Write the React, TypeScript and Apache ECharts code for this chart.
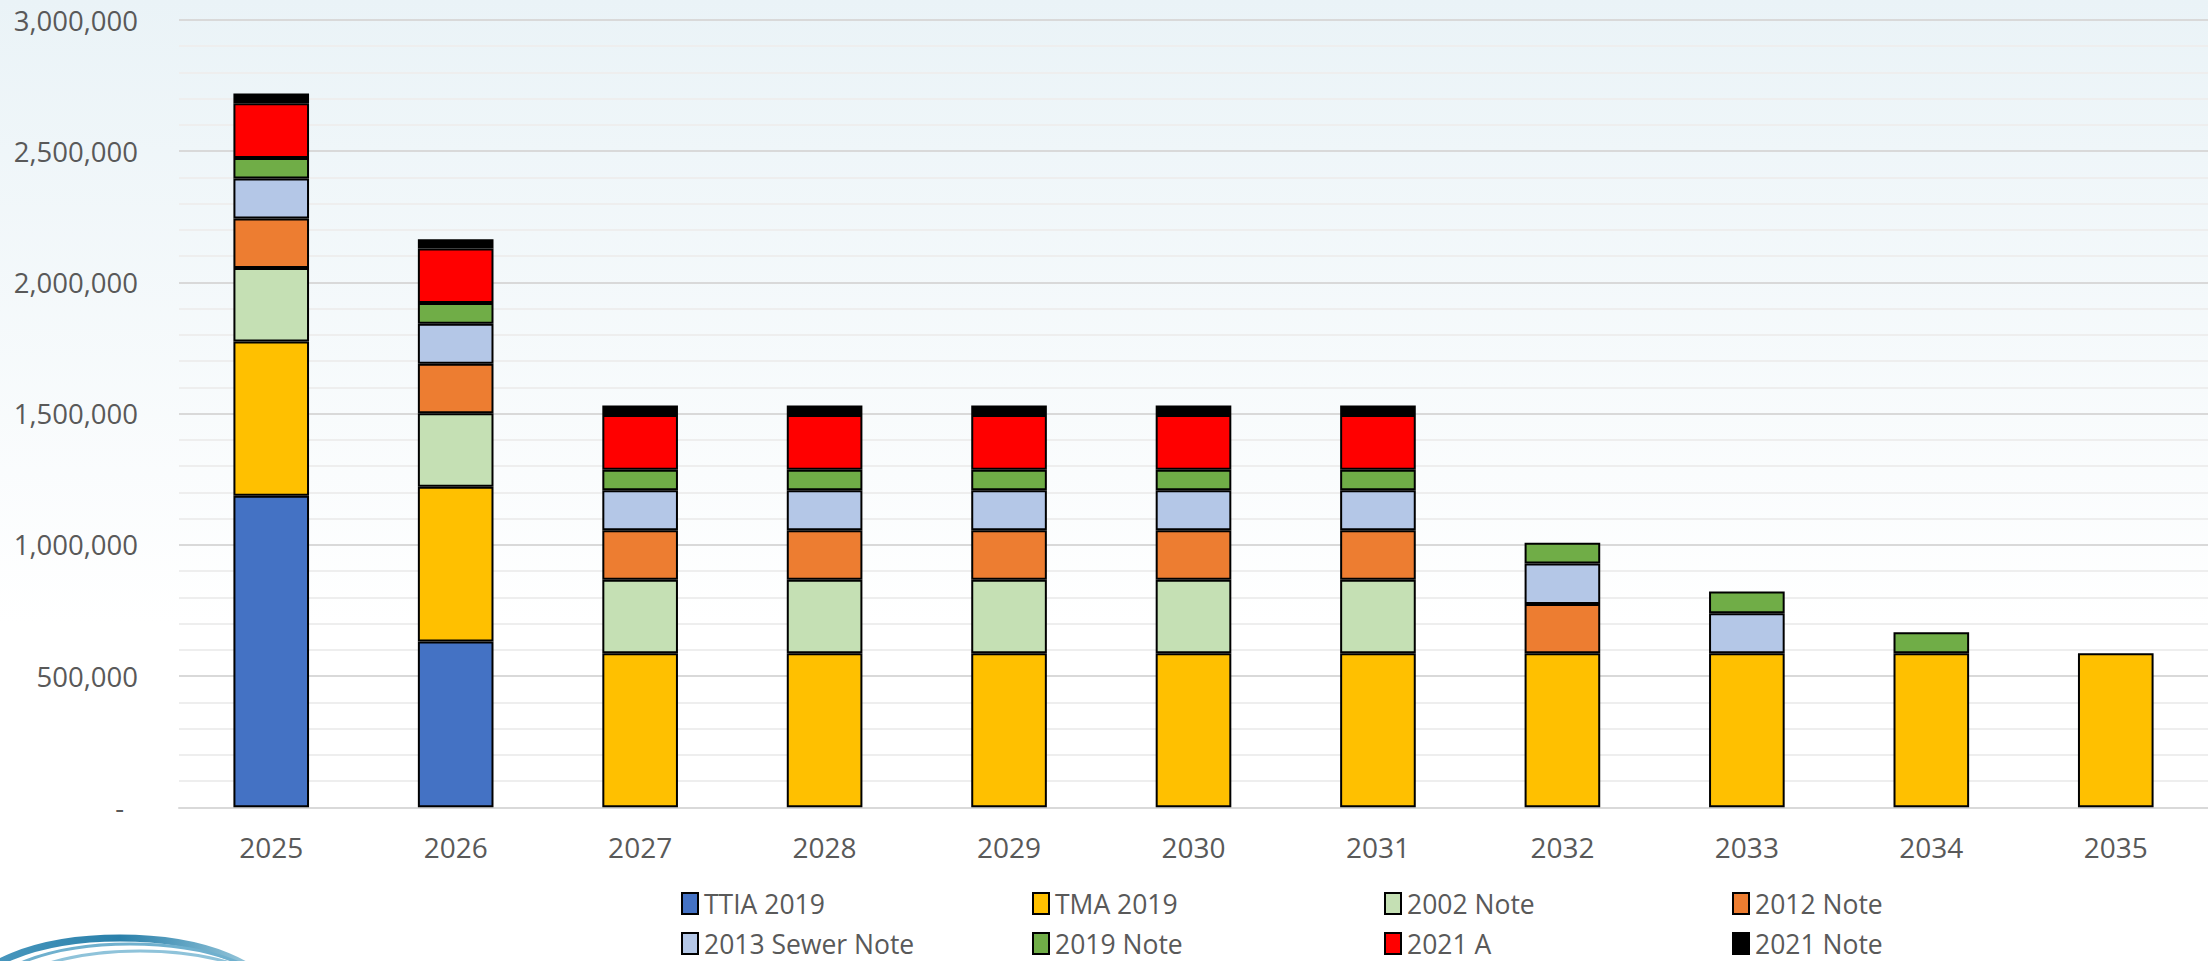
import React, { useEffect, useRef } from "react";
import * as echarts from "echarts";

const years = ["2025", "2026", "2027", "2028", "2029", "2030", "2031", "2032", "2033", "2034", "2035"];

const ttia2019 = [1187000, 632000, null, null, null, null, null, null, null, null, null];
const tma2019 = [588000, 589000, 587000, 587000, 587000, 587000, 587000, 587000, 587000, 587000, 587000];
const note2002 = [280000, 281000, 280000, 280000, 280000, 280000, 280000, null, null, null, null];
const note2012 = [189000, 188000, 189000, 189000, 189000, 189000, 189000, 188000, null, null, null];
const sewer2013 = [152000, 153000, 152000, 152000, 152000, 152000, 152000, 154000, 152000, null, null];
const note2019 = [78000, 79000, 78000, 78000, 78000, 78000, 78000, 79000, 83000, 80000, null];
const a2021 = [209000, 207000, 209000, 209000, 209000, 209000, 209000, null, null, null, null];
const note2021 = [37000, 36000, 36000, 36000, 36000, 36000, 36000, null, null, null, null];

const seriesNames = ["TTIA 2019", "TMA 2019", "2002 Note", "2012 Note", "2013 Sewer Note", "2019 Note", "2021 A", "2021 Note"];
const seriesColors = ["#4472C4", "#FFC000", "#C5E0B4", "#ED7D31", "#B4C7E7", "#70AD47", "#FF0000", "#000000"];
const seriesData = [ttia2019, tma2019, note2002, note2012, sewer2013, note2019, a2021, note2021];

const FONT = "'Open Sans', sans-serif";
const TEXT = "#595959";

export default function App() {
  const ref = useRef<HTMLDivElement>(null);
  useEffect(() => {
    if (!ref.current) return;
    const chart = echarts.init(ref.current, null, { renderer: "svg" });

    const legendCols = [681, 1032, 1384, 1732];
    const legendRows = [890, 930];
    const legends = seriesNames.map((name, i) => ({
      show: true,
      data: [{ name, icon: "rect" }],
      left: legendCols[i % 4],
      top: legendRows[Math.floor(i / 4)],
      itemWidth: 16,
      itemHeight: 21,
      itemGap: 0,
      padding: 0,
      textStyle: { fontFamily: FONT, fontSize: 26.5, lineHeight: 24, color: TEXT, padding: [0, 0, 0, 1] },
      selectedMode: false,
    }));

    chart.setOption({
      animation: false,
      backgroundColor: {
        type: "linear",
        x: 0, y: 0, x2: 0, y2: 1,
        colorStops: [
          { offset: 0, color: "#EAF3F7" },
          { offset: 0.65, color: "#FFFFFF" },
          { offset: 1, color: "#FFFFFF" },
        ],
      },
      legend: legends,
      grid: { left: 179, top: 20, width: 2030, height: 787.3, containLabel: false },
      xAxis: {
        type: "category",
        data: years,
        axisLine: { show: true, lineStyle: { color: "#D9D9D9", width: 2 } },
        axisTick: { show: false },
        axisLabel: { fontFamily: FONT, fontSize: 28, color: TEXT, margin: 26 },
      },
      yAxis: {
        type: "value",
        min: 0,
        max: 3000000,
        interval: 500000,
        axisLine: { show: false },
        axisTick: { show: false },
        splitLine: { show: true, lineStyle: { color: "#D9D9D9", width: 2 } },
        minorTick: { show: false, splitNumber: 5 },
        minorSplitLine: { show: true, lineStyle: { color: "#EEEEEE", width: 2 } },
        axisLabel: {
          fontFamily: FONT,
          fontSize: 27.5,
          lineHeight: 26,
          color: TEXT,
          margin: 41,
          formatter: (v: number) => (v === 0 ? "{d|-}" : v.toLocaleString("en-US")),
          rich: { d: { fontFamily: FONT, fontSize: 27.5, lineHeight: 26, color: TEXT, padding: [0, 14, 0, 0] } },
        },
      },
      series: seriesNames.map((name, i) => ({
        name,
        type: "bar",
        stack: "total",
        barWidth: "41%",
        data: seriesData[i],
        itemStyle: { color: seriesColors[i], borderColor: "#000000", borderWidth: 2 },
      })),
      graphic: [
        {
          type: "ellipse",
          silent: true,
          shape: { cx: 120, cy: 1000, rx: 152, ry: 62 },
          style: {
            fill: "none",
            lineWidth: 7,
            stroke: {
              type: "linear", x: 0, y: 0, x2: 1, y2: 0,
              colorStops: [
                { offset: 0, color: "#4F9CC2" },
                { offset: 0.5, color: "#2A80AA" },
                { offset: 1, color: "#A8D2E3" },
              ],
            },
          },
        },
        {
          type: "ellipse",
          silent: true,
          shape: { cx: 130, cy: 1004, rx: 150, ry: 60 },
          style: { fill: "none", lineWidth: 3, stroke: "#6FB0CE" },
        },
        {
          type: "ellipse",
          silent: true,
          shape: { cx: 140, cy: 1009, rx: 148, ry: 58 },
          style: { fill: "none", lineWidth: 3, stroke: "#8FC3DA" },
        },
      ],
    });
    return () => chart.dispose();
  }, []);
  return (
    <div
      ref={ref}
      style={{ position: "absolute", left: 0, top: 0, width: 2208, height: 961 }}
    />
  );
}
